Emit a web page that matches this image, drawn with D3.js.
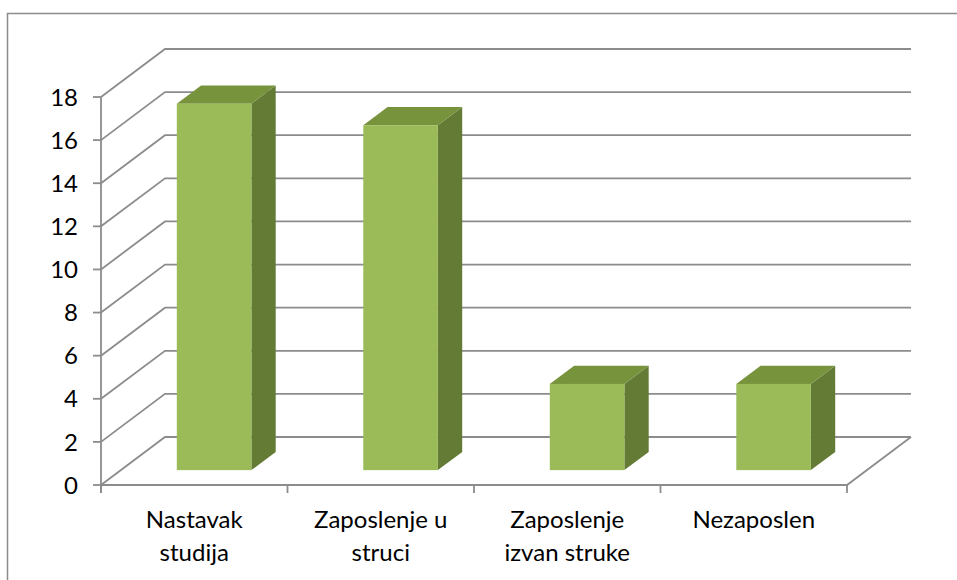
<!DOCTYPE html>
<html>
<head>
<meta charset="utf-8">
<script src="https://cdn.jsdelivr.net/npm/d3@7"></script>
<style>
body { margin: 0; background: #fff; }
svg text { font-family: Lato, "Open Sans", sans-serif; fill: #000; }
</style>
</head>
<body>
<div class="container"></div>
<script>
// data
var categories = [["Nastavak", "studija"], ["Zaposlenje u", "struci"], ["Zaposlenje", "izvan struke"], ["Nezaposlen"]];
var values = [17, 16, 4, 4];
var yTicks = [0, 2, 4, 6, 8, 10, 12, 14, 16, 18];

var W = 957, H = 580;
var svg = d3.select('.container').append('svg')
	.attr('width', W)
	.attr('height', H);

// outer frame
svg.append('path')
	.attr('d', 'M7.5,' + (H + 2) + 'V13.5H' + (W + 2))
	.attr('fill', 'none')
	.attr('stroke', '#8c8c8c')
	.attr('stroke-width', 1.5);

var x0 = 101, x1 = 847;
var depthX = 64, depthY = -48;

var y = d3.scaleLinear().domain([0, 18]).range([485, 97]);
var x = d3.scaleBand().domain(d3.range(categories.length)).range([x0, x1]).paddingInner(0.6).paddingOuter(0.3);

var grid = svg.append('g')
	.attr('fill', 'none')
	.attr('stroke', '#8c8c8c')
	.attr('stroke-width', 1.8);

// walls: side diagonals and back horizontals
yTicks.forEach(function(t){
	grid.append('path')
		.attr('d', 'M' + x0 + ',' + y(t) + 'L' + (x0 + depthX) + ',' + (y(t) + depthY) + 'H' + (x1 + depthX));
});

// floor front edge and right edge
grid.append('path')
	.attr('d', 'M' + x0 + ',' + y(0) + 'H' + x1 + 'L' + (x1 + depthX) + ',' + (y(0) + depthY));

// y axis
grid.append('path').attr('d', 'M' + x0 + ',' + y(18) + 'V' + (y(0) + 8));
yTicks.forEach(function(t){
	grid.append('path').attr('d', 'M' + (x0 - 8) + ',' + y(t) + 'H' + x0);
});
// x ticks
d3.range(categories.length + 1).forEach(function(i){
	var xx = x0 + i * (x1 - x0) / categories.length;
	grid.append('path').attr('d', 'M' + xx + ',' + y(0) + 'V' + (y(0) + 8));
});

svg.append('g').selectAll('text')
	.data(yTicks)
	.enter().append('text')
	.attr('x', 78)
	.attr('y', function(d){ return y(d); })
	.attr('dy', '0.36em')
	.attr('text-anchor', 'end')
	.style('font-size', '24px')
	.text(function(d){ return d; });

// bars
var f0 = 0.31, f1 = 0.69;
var bars = svg.append('g').selectAll('g')
	.data(values)
	.enter().append('g');

bars.each(function(v, i){
	var g = d3.select(this);
	var bx = x(i) + f0 * depthX, bw = x.bandwidth();
	var by = y(v) + f0 * depthY, bb = y(0) + f0 * depthY;
	var ddx = (f1 - f0) * depthX, ddy = (f1 - f0) * depthY;
	// side
	g.append('path')
		.attr('d', 'M' + (bx + bw) + ',' + by + 'L' + (bx + bw + ddx) + ',' + (by + ddy) + 'V' + (bb + ddy) + 'L' + (bx + bw) + ',' + bb + 'Z')
		.attr('fill', '#647b35');
	// top
	g.append('path')
		.attr('d', 'M' + bx + ',' + by + 'L' + (bx + ddx) + ',' + (by + ddy) + 'H' + (bx + bw + ddx) + 'L' + (bx + bw) + ',' + by + 'Z')
		.attr('fill', '#77933c');
	// front
	g.append('rect')
		.attr('x', bx)
		.attr('y', by)
		.attr('width', bw)
		.attr('height', bb - by)
		.attr('fill', '#9bbb59');
});

// category labels
var labels = svg.append('g').selectAll('text')
	.data(categories)
	.enter().append('text')
	.attr('text-anchor', 'middle')
	.style('font-size', '24px');

labels.each(function(lines, i){
	var cx = x0 + (i + 0.5) * (x1 - x0) / categories.length;
	d3.select(this).selectAll('tspan')
		.data(lines)
		.enter().append('tspan')
		.attr('x', cx)
		.attr('y', function(d, j){ return 528 + j * 33; })
		.text(function(d){ return d; });
});
</script>
</body>
</html>
